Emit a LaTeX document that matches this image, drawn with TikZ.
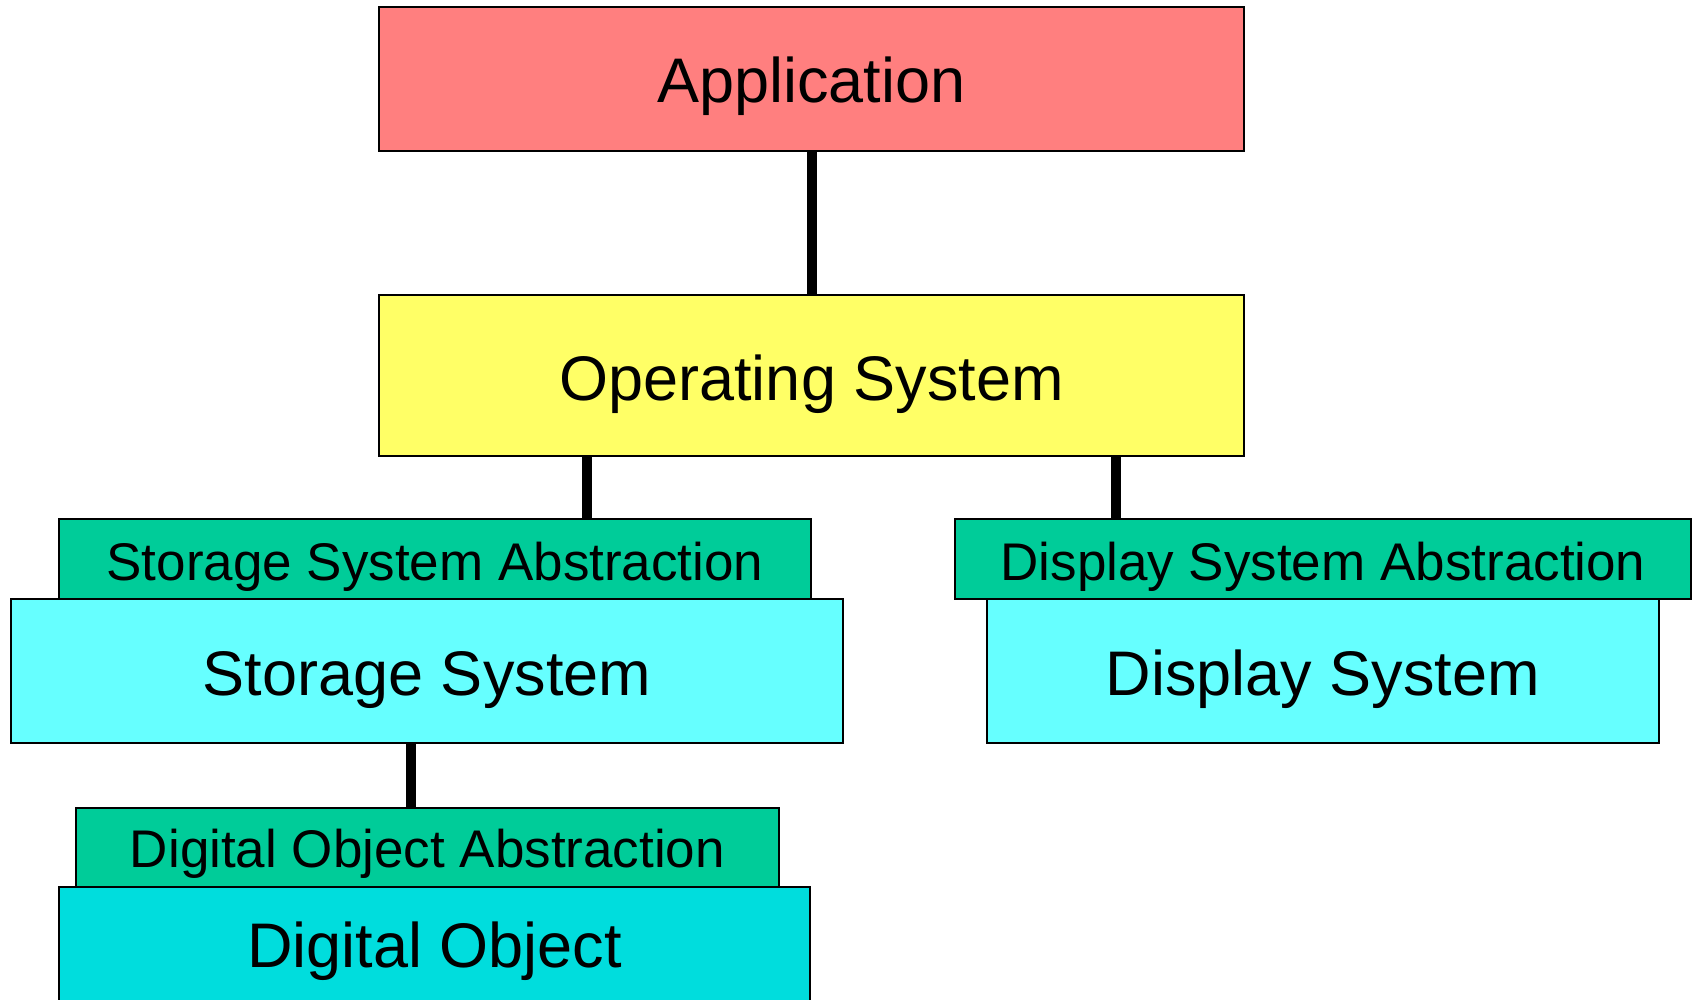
\documentclass[tikz,border=0pt]{standalone}
\usepackage{fontspec}
\setmainfont{Liberation Sans}
\definecolor{appred}{HTML}{FF7F7F}
\definecolor{osyellow}{HTML}{FFFF66}
\definecolor{absgreen}{HTML}{00CC99}
\definecolor{syscyan}{HTML}{66FFFF}
\definecolor{objcyan}{HTML}{00DDDD}
\tikzset{
  box/.style={draw=black, line width=2.7pt, rectangle, inner sep=0pt, text depth=0pt, align=center},
  bigtxt/.style={font=\fontsize{63}{70}\selectfont},
  smalltxt/.style={font=\fontsize{53}{60}\selectfont},
  link/.style={line width=10pt, draw=black}
}
\begin{document}
\begin{tikzpicture}[x=1pt,y=-1pt]
\useasboundingbox (0,0) rectangle (1696,999);
\clip (0,0) rectangle (1696,999);
% connectors (drawn first, behind boxes)
\coordinate (c1) at (812,151);
\node[box, bigtxt, fill=appred, minimum width=865pt, minimum height=144pt, text height=47.4pt] (app) at (811.5,79) {Application};
\node[box, bigtxt, fill=osyellow, minimum width=865pt, minimum height=161pt, text height=49pt] (os) at (811.5,375.5) {Operating System};
\node[box, bigtxt, fill=syscyan, minimum width=832pt, minimum height=144pt, text height=48pt] (ss) at (427,671) {Storage System};
\node[box, smalltxt, fill=absgreen, minimum width=752pt, minimum height=80pt, text height=42pt] (ssa) at (435,559) {Storage System Abstraction};
\node[box, bigtxt, fill=syscyan, minimum width=672pt, minimum height=144pt, text height=48pt] (ds) at (1323,671) {Display System};
\node[box, smalltxt, fill=absgreen, minimum width=736pt, minimum height=80pt, text height=42pt] (dsa) at (1323,559) {Display System Abstraction};
\node[box, bigtxt, fill=objcyan, minimum width=751pt, minimum height=116pt, text height=45.4pt] (do) at (434.5,945) {Digital Object};
\node[box, smalltxt, fill=absgreen, minimum width=703pt, minimum height=79pt, text height=40.4pt] (doa) at (427.5,847.5) {Digital Object Abstraction};
% connectors
\draw[link] (app.south) -- (os.north);
\draw[link] (587,0 |- os.south) -- (587,0 |- ssa.north);
\draw[link] (1116,0 |- os.south) -- (1116,0 |- dsa.north);
\draw[link] (411,0 |- ss.south) -- (411,0 |- doa.north);
\end{tikzpicture}
\end{document}
